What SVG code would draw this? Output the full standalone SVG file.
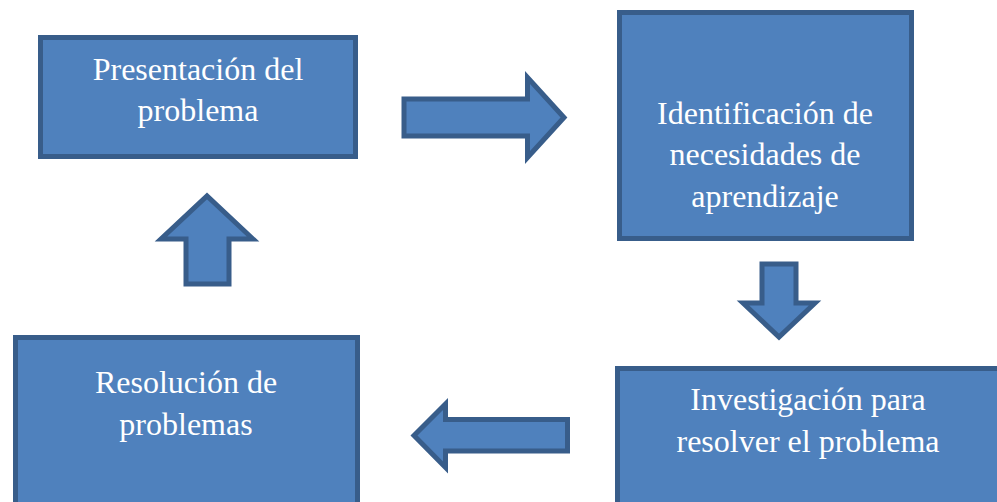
<svg xmlns="http://www.w3.org/2000/svg" width="997" height="502" viewBox="0 0 997 502">
<style>
.box{fill:#4f81bd;stroke:#385d8a;stroke-width:5}
.arr{fill:#4f81bd;stroke:#385d8a;stroke-width:5;stroke-linejoin:miter}
.t{font-family:"Liberation Serif","Times New Roman",serif;font-size:32px;fill:#ffffff;text-anchor:middle}
</style>
<rect width="997" height="502" fill="#ffffff"/>
<g id="node-presentacion">
<rect class="box" x="40.5" y="37.5" width="315" height="119"/>
<text class="t" x="198" y="79.5">Presentación del</text>
<text class="t" x="198" y="120.5">problema</text>
</g>
<g id="node-identificacion">
<rect class="box" x="619.5" y="12.5" width="292" height="226"/>
<text class="t" x="765" y="123.5">Identificación de</text>
<text class="t" x="765" y="165">necesidades de</text>
<text class="t" x="765" y="206.5">aprendizaje</text>
</g>
<g id="node-investigacion">
<rect class="box" x="617.5" y="368.5" width="400" height="200"/>
<text class="t" x="808" y="410">Investigación para</text>
<text class="t" x="808" y="452">resolver el problema</text>
</g>
<g id="node-resolucion">
<rect class="box" x="15.5" y="337.5" width="342" height="200"/>
<text class="t" x="186" y="393">Resolución de</text>
<text class="t" x="186" y="435">problemas</text>
</g>
<g id="connectors">
<path class="arr" d="M404,99 H527.5 V77.5 L564,117.5 L527.5,157.5 V136 H404 Z"/>
<path class="arr" d="M762,264 H796 V303 H815 L779,337 L743,303 H762 Z"/>
<path class="arr" d="M567.5,419.5 H445.5 V404 L414,435.5 L445.5,467.5 V451 H567.5 Z"/>
<path class="arr" d="M186,284 V239 H161 L207,196 L253,239 H229 V284 Z"/>
</g>
</svg>
